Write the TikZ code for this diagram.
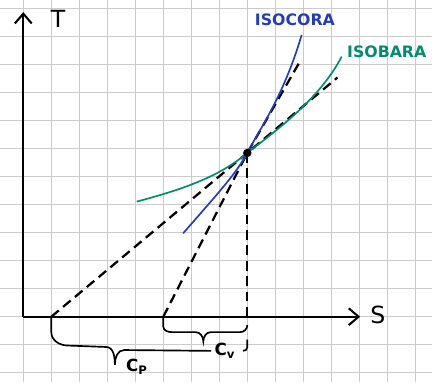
\documentclass[tikz,border=0pt]{standalone}
\usepackage{fontspec}
\setmainfont{DejaVu Sans}
\usepackage{tikz}
\usetikzlibrary{arrows.meta,calc}
\usepackage{xcolor}
\definecolor{isoblu}{RGB}{35,60,190}
\definecolor{isoverde}{RGB}{0,140,110}

\begin{document}
\begin{tikzpicture}[scale=1.0,>={Straight Barb[length=3.5mm,width=6mm]},
  griglia/.style={gray!40,line width=0.7pt},
  asse/.style={line width=2.1pt,->},
  tangente/.style={line width=2.3pt,dash pattern=on 3.5mm off 2mm},
  curva/.style={line width=1.7pt},
  graffa/.style={line width=1.7pt},
  etic/.style={font=\fontsize{16}{18}\selectfont\bfseries},
  pedice/.style={font=\fontsize{17}{19}\selectfont\bfseries},
  nomeasse/.style={font=\fontsize{24}{26}\selectfont}]
  % diagramma T-S: isocora e isobara con sottotangenti
  \useasboundingbox (-0.832,-2.332) rectangle (14.596,11.311);
  \draw[griglia] (-0.832,-2.332) grid (14.596,11.311);

  \coordinate (O) at (0,0);
  \coordinate (Tfine) at (0,10.88);
  \coordinate (Sfine) at (12.03,0);
  \coordinate (P) at (8,5.85);
  \coordinate (cpfoot) at (1,0);
  \coordinate (cvfoot) at (5,0);
  \coordinate (Pfoot) at (8,0);
  \coordinate (cptop) at ($(cpfoot)!1.46!(P)$);
  \coordinate (cvtop) at (9.9,9.15);

  \draw[asse] (O) -- (Tfine);
  \draw[asse] (O) -- (Sfine);
  \node[nomeasse] (lblT) at (1.24,10.62) {T};
  \node[nomeasse] (lblS) at (12.66,0.05) {S};

  \draw[tangente] (cpfoot) -- (cptop);
  \draw[tangente] (cvfoot) -- (P) -- (cvtop);
  \draw[tangente] (P) -- (Pfoot);

  \draw[curva,isoverde] (4.05,4.11) .. controls (5.7,4.55) and (7,5.0) .. (P)
    .. controls (9.1,6.7) and (10.6,7.8) .. (11.37,9.29);
  \draw[curva,isoblu] (5.71,2.98) .. controls (6.9,4.35) and (7.6,5.1) .. (P)
    .. controls (8.5,6.8) and (9.3,7.9) .. (9.94,10.06);
  \fill (P) circle (0.15);

  \node[etic,isoblu] (lblisocora) at (9.70,10.62) {ISOCORA};
  \node[etic,isoverde] (lblisobara) at (12.98,9.46) {ISOBARA};

  \node[pedice] (lblcv) at (7.2,-1.22) {C\textsubscript{v}};
  \node[pedice] (lblcp) at (4.05,-1.8) {C\textsubscript{P}};

  \draw[graffa] (cvfoot) -- (5,-0.35) to[out=-90,in=180] (5.3,-0.55) -- (6.15,-0.55)
    to[out=0,in=90] (6.43,-0.88) to[out=90,in=180] (6.7,-0.55) -- (7.75,-0.55)
    to[out=0,in=-90] (8,-0.3);
  \draw[graffa] (cpfoot) -- (1,-0.55) to[out=-90,in=180] (1.6,-1.03) -- (2.95,-1.08)
    to[out=0,in=90] (3.27,-1.72) to[out=90,in=180] (3.6,-1.19) -- (lblcv.west);
  \draw[graffa] (8,-0.82) -- (8,-1.1) to[out=-90,in=0] (7.85,-1.22);
\end{tikzpicture}
\end{document}
